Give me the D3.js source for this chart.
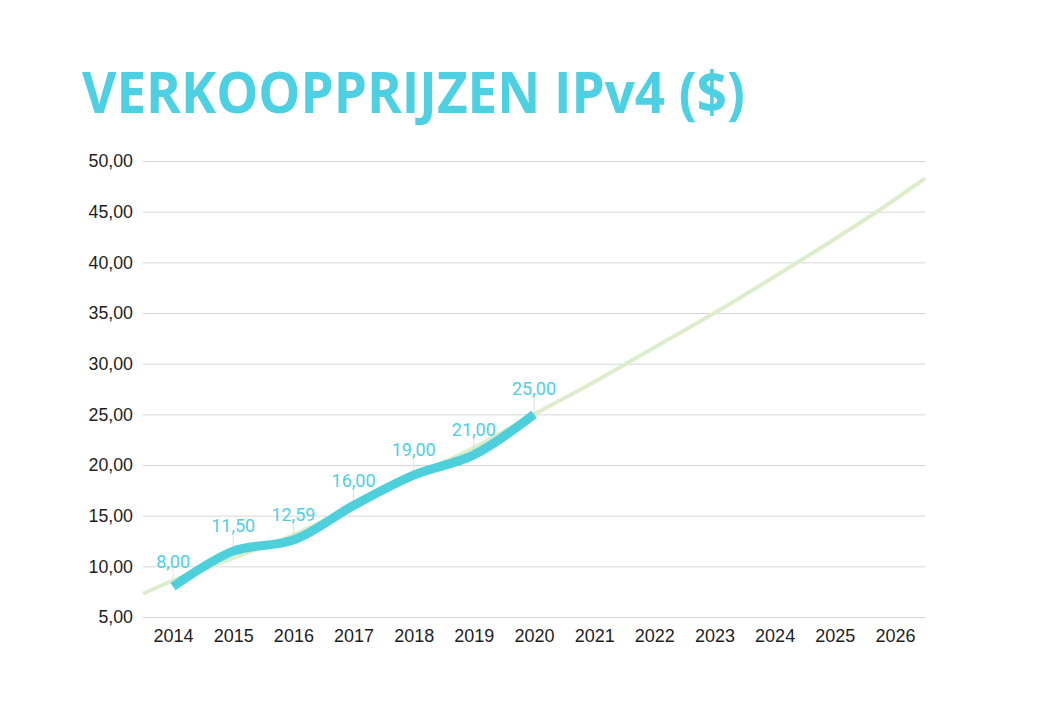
<!DOCTYPE html>
<html><head><meta charset="utf-8">
<script src="https://cdn.jsdelivr.net/npm/d3@7/dist/d3.min.js"></script>
<style>body{margin:0;background:#fff}svg{display:block}</style>
</head><body>
<svg id="c" width="1042" height="720"></svg>
<script>
const title = "VERKOOPPRIJZEN IPv4 ($)";
const years = [2014,2015,2016,2017,2018,2019,2020,2021,2022,2023,2024,2025,2026];
const priceYears = [2014,2015,2016,2017,2018,2019,2020];
const prices = [8.00,11.50,12.59,16.00,19.00,21.00,25.00];
const trendYears = [2013.5,2014,2015,2016,2017,2018,2019,2020,2021,2022,2023,2024,2025,2026,2026.5];
const trendValues = [7.3,8.6,10.8,13.1,16.0,18.9,21.7,25.0,28.2,31.6,35.0,38.6,42.3,46.2,48.3];
const yTicks = [5,10,15,20,25,30,35,40,45,50];

const svg = d3.select("#c");
const L=143, R=925, T=161, B=617;
const fmt = d3.formatLocale({decimal:",",thousands:".",grouping:[3],currency:["$",""]}).format(".2f");
const x = d3.scaleLinear().domain([2013.5,2026.5]).range([L,R]);
const y = d3.scaleLinear().domain([5,50]).range([B,T]);

svg.append("text").attr("x",82).attr("y",113)
  .attr("font-family","'Open Sans',sans-serif").attr("font-weight",700)
  .attr("font-size",57).attr("fill","#4dd0e1")
  .attr("textLength",663).attr("lengthAdjust","spacingAndGlyphs").text(title);

// grid
const gy = svg.append("g").attr("transform",`translate(${L},0)`)
  .call(d3.axisLeft(y).tickValues(yTicks).tickSize(-(R-L)).tickFormat(fmt).tickPadding(10));
gy.select(".domain").remove();
gy.selectAll(".tick line").attr("stroke","#d6d6d6").attr("stroke-width",1);
gy.selectAll(".tick text").attr("font-family","'Liberation Sans',Arial,sans-serif")
  .attr("font-size",17.8).attr("fill","#1e1e1e");

const gx = svg.append("g").attr("transform",`translate(0,${B})`)
  .call(d3.axisBottom(x).tickValues(years).tickSize(0).tickFormat(d3.format("d")).tickPadding(12));
gx.select(".domain").remove();
gx.selectAll(".tick text").attr("font-family","'Liberation Sans',Arial,sans-serif")
  .attr("font-size",18).attr("fill","#1e1e1e");

// trend
svg.append("path").datum(trendYears.map((d,i)=>[d,trendValues[i]]))
  .attr("fill","none").attr("stroke","#dcedcc").attr("stroke-width",4)
  .attr("d",d3.line().x(d=>x(d[0])).y(d=>y(d[1])).curve(d3.curveMonotoneX));

// leader lines
const pts = priceYears.map((d,i)=>({yr:d,v:prices[i]}));
svg.selectAll(".lead").data(pts).join("line")
  .attr("x1",d=>x(d.yr)).attr("x2",d=>x(d.yr))
  .attr("y1",d=>y(d.v)-19).attr("y2",d=>y(d.v))
  .attr("stroke","#d8d8d8").attr("stroke-width",0.8);

// price line
svg.append("path").datum(pts)
  .attr("fill","none").attr("stroke","#4dd0dc").attr("stroke-width",9)
  .attr("d",d3.line().x(d=>x(d.yr)).y(d=>y(d.v)).curve(d3.curveCatmullRom.alpha(0.5)));

svg.selectAll(".lbl").data(pts).join("text")
  .attr("x",d=>x(d.yr)).attr("y",d=>y(d.v)-19)
  .attr("text-anchor","middle").attr("font-family","Roboto,sans-serif")
  .attr("font-size",18).attr("fill","#4dd0e1").text(d=>fmt(d.v));
</script>
</body></html>
